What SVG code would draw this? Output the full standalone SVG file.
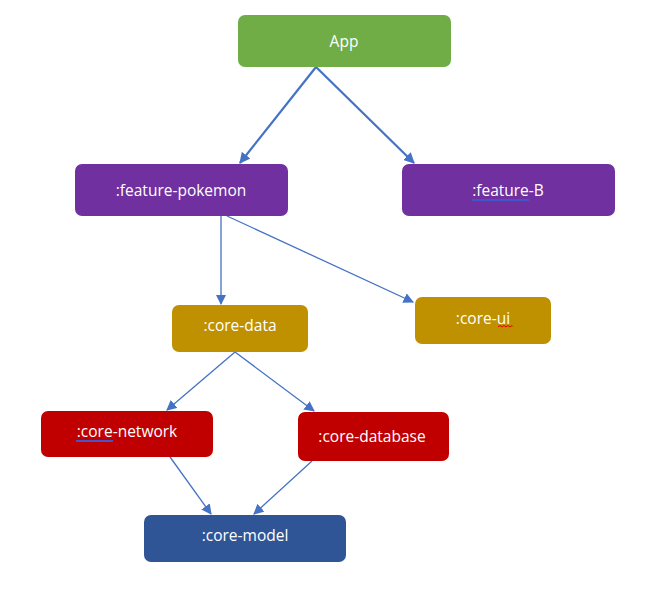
<svg xmlns="http://www.w3.org/2000/svg" width="646" height="590" viewBox="0 0 646 590">
<defs>
<style>
.n text{font-family:"Open Sans","Liberation Sans",sans-serif;font-size:15.5px;fill:#fff;text-anchor:middle;dominant-baseline:central}
.c line{stroke:#4472C4;fill:none}
.t{stroke-width:2.2}
.s{stroke-width:1.3}
</style>
<marker id="ah" viewBox="0 0 10 10" refX="9" refY="5" markerWidth="5" markerHeight="5" markerUnits="strokeWidth" orient="auto"><path d="M0,0L10,5L0,10Z" fill="#4472C4"/></marker>
<marker id="ahs" viewBox="0 0 10 10" refX="9" refY="5" markerWidth="8" markerHeight="8" markerUnits="strokeWidth" orient="auto"><path d="M0,0L10,5L0,10Z" fill="#4472C4"/></marker>
</defs>
<rect width="646" height="590" fill="#fff"/>
<g class="c">
<line class="t" x1="316" y1="67" x2="240" y2="163" marker-end="url(#ah)"/>
<line class="t" x1="316" y1="67" x2="414" y2="163" marker-end="url(#ah)"/>
<line class="s" x1="221" y1="216" x2="221" y2="304" marker-end="url(#ahs)"/>
<line class="s" x1="227" y1="216" x2="413" y2="302" marker-end="url(#ahs)"/>
<line class="s" x1="235" y1="352" x2="167" y2="410" marker-end="url(#ahs)"/>
<line class="s" x1="235" y1="352" x2="314" y2="411" marker-end="url(#ahs)"/>
<line class="s" x1="170" y1="457" x2="211" y2="514" marker-end="url(#ahs)"/>
<line class="s" x1="312" y1="461" x2="254" y2="514" marker-end="url(#ahs)"/>
</g>
<g id="app" class="n"><rect x="238" y="15" width="213" height="52" rx="7" fill="#70AD47"/><text x="344" y="41">App</text></g>
<g id="feature-pokemon" class="n"><rect x="75" y="164" width="213" height="52" rx="7" fill="#7030A0"/><text x="181" y="190">:feature-pokemon</text></g>
<g id="feature-b" class="n"><rect x="402" y="164" width="213" height="52" rx="7" fill="#7030A0"/><text x="508" y="190">:feature-B</text><line x1="472" y1="200" x2="529" y2="200" stroke="#4355C8" stroke-width="2"/></g>
<g id="core-data" class="n"><rect x="172" y="305" width="136" height="47" rx="7" fill="#BF9000"/><text x="240" y="325">:core-data</text></g>
<g id="core-ui" class="n"><rect x="415" y="297" width="136" height="47" rx="7" fill="#BF9000"/><text x="483" y="318">:core-ui</text><path d="M498,327l2,-1.5l2,1.5l2,-1.5l2,1.5l2,-1.5l2,1.5l2,-1.5l1,1" stroke="#E00000" stroke-width="1" fill="none"/></g>
<g id="core-network" class="n"><rect x="41" y="411" width="172" height="46" rx="7" fill="#C00000"/><text x="127" y="431">:core-network</text><line x1="76" y1="441" x2="113" y2="441" stroke="#4355C8" stroke-width="2"/></g>
<g id="core-database" class="n"><rect x="298" y="412" width="151" height="49" rx="7" fill="#C00000"/><text x="372" y="436">:core-database</text></g>
<g id="core-model" class="n"><rect x="144" y="515" width="202" height="47" rx="7" fill="#2F5597"/><text x="245" y="535">:core-model</text></g>
</svg>
